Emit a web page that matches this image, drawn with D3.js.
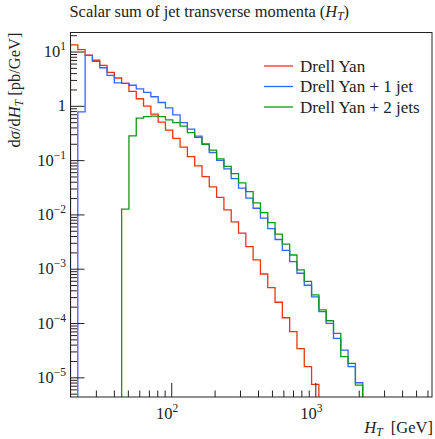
<!DOCTYPE html>
<html>
<head>
<meta charset="utf-8">
<script src="https://cdn.jsdelivr.net/npm/d3@7"></script>
<style>
  html, body { margin: 0; padding: 0; background: #fff; }
  svg { display: block; }
  text { font-family: "Liberation Serif", "DejaVu Serif", serif; fill: #222; }
</style>
</head>
<body>
<div id="chart"></div>
<script>
// ---------------- data ----------------
const htMin = 20, htMax = 6850, nBins = 50;          // log-spaced binning of H_T [GeV]
const seriesNames = ["Drell Yan", "Drell Yan + 1 jet", "Drell Yan + 2 jets"];
const seriesColors = ["#ee3311", "#3366ff", "#109618"];
// dσ/dH_T [pb/GeV], one value per bin (bins 0..39), 0 = empty
const dyValues = [13.3, 10.8, 8.53, 6.90, 5.58, 4.14, 3.25, 2.60, 1.85, 1.35,
  0.987, 0.703, 0.501, 0.357, 0.251, 0.174, 0.116, 0.0784, 0.0498, 0.0321,
  0.0206, 0.0121, 0.00728, 0.00451, 0.00255, 0.00145, 8.0e-4, 4.48e-4, 2.41e-4, 1.25e-4,
  6.92e-5, 3.37e-5, 1.57e-5, 7.43e-6, 0, 0, 0, 0, 0, 0];
const dy1jValues = [0, 0.775, 8.52, 6.61, 5.02, 3.65, 2.65, 2.60, 2.39, 2.06,
  1.77, 1.47, 1.15, 0.919, 0.683, 0.492, 0.372, 0.276, 0.199, 0.138,
  0.0990, 0.0690, 0.0457, 0.0304, 0.0199, 0.0130, 0.00852, 0.00548, 0.00345, 0.00217,
  0.00135, 8.25e-4, 4.96e-4, 3.02e-4, 1.62e-4, 9.89e-5, 5.23e-5, 3.18e-5, 1.57e-5, 7.95e-6];
const dy2jValues = [0, 0, 0, 0, 0, 0, 0, 0.0125, 0.280, 0.593,
  0.635, 0.646, 0.632, 0.552, 0.492, 0.423, 0.322, 0.263, 0.195, 0.153,
  0.105, 0.0767, 0.0563, 0.0381, 0.0263, 0.0163, 0.0108, 0.00707, 0.00432, 0.00283,
  0.00179, 9.50e-4, 5.83e-4, 3.29e-4, 1.74e-4, 1.10e-4, 6.47e-5, 2.40e-5, 1.81e-5, 7.21e-6];
const xMajorTicks = [100, 1000];
const xTickExps = ["2", "3"];
const yMajorTicks = [10, 1, 0.1, 0.01, 0.001, 1e-4, 1e-5];
const yTickExps = ["1", "", "\u22121", "\u22122", "\u22123", "\u22124", "\u22125"];
const titleText = "Scalar sum of jet transverse momenta (";
const xAxisMax = 6450, yAxisMin = 4.34e-6, yAxisMax = 22.4;

// ---------------- layout ----------------
const W = 435, H = 439;
const L = 70.5, R = 432, T = 32.5, B = 397;

const svg = d3.select("#chart").append("svg").attr("width", W).attr("height", H);

const x = d3.scaleLog().domain([htMin, xAxisMax]).range([L, R]);
const y = d3.scaleLog().domain([yAxisMin, yAxisMax]).range([B, T]);

const binEdges = d3.range(nBins + 1).map(k => htMin * Math.pow(htMax / htMin, k / nBins));

svg.append("defs").append("clipPath").attr("id", "plotclip")
  .append("rect").attr("x", L).attr("y", T).attr("width", R - L).attr("height", B - T);

// ---------------- histograms ----------------
const allSeries = [dyValues, dy1jValues, dy2jValues];
function stepPath(vals) {
  const below = B + 10;
  let d = "M" + x(binEdges[0]) + "," + below;
  vals.forEach((v, i) => {
    const yy = v > 0 ? y(v) : below;
    d += "V" + yy + "H" + x(binEdges[i + 1]);
  });
  d += "V" + below;
  return d;
}
const gData = svg.append("g").attr("clip-path", "url(#plotclip)");
allSeries.forEach((vals, i) => {
  gData.append("path").attr("d", stepPath(vals))
    .attr("fill", "none").attr("stroke", seriesColors[i]).attr("stroke-width", 1.3);
});

// ---------------- axes ----------------
function minorTicks(lo, hi) {
  const out = [];
  for (let e = Math.floor(Math.log10(lo)) - 1; e <= Math.ceil(Math.log10(hi)); e++) {
    for (let m = 2; m <= 9; m++) {
      const v = m * Math.pow(10, e);
      if (v > lo && v < hi) out.push(v);
    }
  }
  return out;
}
function styleAxis(g) {
  g.select(".domain").remove();
  g.selectAll(".tick line").attr("stroke", "#222").attr("stroke-width", 1);
  g.selectAll(".tick text").remove();
}
// x ticks (inside, from the bottom)
svg.append("g").attr("transform", `translate(0,${B})`)
  .call(d3.axisBottom(x).tickValues(minorTicks(htMin, xAxisMax)).tickSize(-6.5)).call(styleAxis);
svg.append("g").attr("transform", `translate(0,${B})`)
  .call(d3.axisBottom(x).tickValues(xMajorTicks).tickSize(-14)).call(styleAxis);
// y ticks (inside, from the left)
svg.append("g").attr("transform", `translate(${L},0)`)
  .call(d3.axisLeft(y).tickValues(minorTicks(yAxisMin, yAxisMax)).tickSize(-6.5)).call(styleAxis);
svg.append("g").attr("transform", `translate(${L},0)`)
  .call(d3.axisLeft(y).tickValues(yMajorTicks).tickSize(-14)).call(styleAxis);

// frame
svg.append("rect").attr("x", L).attr("y", T).attr("width", R - L).attr("height", B - T)
  .attr("fill", "none").attr("stroke", "#222").attr("stroke-width", 1);

// tick labels
const fs = 16.5, fsSup = 11.5;
xMajorTicks.forEach((v, i) => {
  const t = svg.append("text").attr("x", x(v) - 4).attr("y", 419).attr("text-anchor", "middle")
    .attr("font-size", fs);
  t.append("tspan").text("10");
  t.append("tspan").attr("dy", -7).attr("font-size", fsSup).text(xTickExps[i]);
});
yMajorTicks.forEach((v, i) => {
  const t = svg.append("text").attr("x", 66).attr("y", y(v) + 5.5).attr("text-anchor", "end")
    .attr("font-size", fs);
  if (yTickExps[i] === "") { t.text("1"); return; }
  t.append("tspan").text("10");
  t.append("tspan").attr("dy", -7).attr("font-size", fsSup).text(yTickExps[i]);
});

// title
const title = svg.append("text").attr("x", L - 1).attr("y", 17).attr("font-size", 16.4);
title.append("tspan").text(titleText);
title.append("tspan").attr("font-style", "italic").text("H");
title.append("tspan").attr("font-style", "italic").attr("font-size", 11.5).attr("dy", 3).text("T");
title.append("tspan").attr("dy", -3).text(")");

// x label
const xl = svg.append("text").attr("x", R + 1).attr("y", 433).attr("text-anchor", "end").attr("font-size", fs);
xl.append("tspan").attr("font-style", "italic").text("H");
xl.append("tspan").attr("font-style", "italic").attr("font-size", fsSup).attr("dy", 3).text("T");
xl.append("tspan").attr("dy", -3).text("\u2002[GeV]");

// y label
const yl = svg.append("text").attr("transform", `translate(20,${T}) rotate(-90)`)
  .attr("text-anchor", "end").attr("font-size", fs);
yl.append("tspan").text("d");
yl.append("tspan").attr("font-style", "italic").text("\u03c3");
yl.append("tspan").text("/d");
yl.append("tspan").attr("font-style", "italic").text("H");
yl.append("tspan").attr("font-style", "italic").attr("font-size", fsSup).attr("dy", 3).text("T");
yl.append("tspan").attr("dy", -3).text(" [pb/GeV]");

// legend
const legY = [66, 86.5, 107];
seriesNames.forEach((name, i) => {
  svg.append("line").attr("x1", 264).attr("x2", 293).attr("y1", legY[i]).attr("y2", legY[i])
    .attr("stroke", seriesColors[i]).attr("stroke-width", 1.3);
  svg.append("text").attr("x", 300).attr("y", legY[i] + 5.5).attr("font-size", 17).text(name);
});
</script>
</body>
</html>
